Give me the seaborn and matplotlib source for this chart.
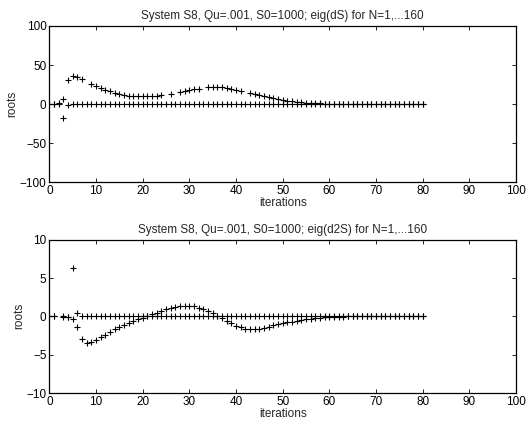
import numpy as np
import pandas as pd
import matplotlib
matplotlib.use("Agg")
import matplotlib.pyplot as plt
import seaborn as sns

nan = np.nan
iterations = list(range(0, 81))

# eig(dS): branch that departs from zero, and branch that stays near zero
ds_branch = [0, 0, 2, 7, 31.3, 36.4, 34.8, 32.2, nan, 26.2,
             23.3, 20.7, 18.5, 16.4, 14.7, 13.0, 11.8, 10.9, 10.5, 10.0,
             10.0, 10.0, 10.5, 10.9, 11.2, nan, 13.0, nan, 15.6, 16.8,
             18.1, 19.4, 19.8, nan, 21.5, 22.0, 22.0, 21.5, 20.7, 19.4,
             18.1, 16.8, nan, 14.7, 13.0, 11.2, 10.0, 8.7, 7.4, 6.1,
             5.2, 4.3, 3.6, 3.0, 2.5, 2.0, 1.6, 1.3, 1.0, 0.8,
             0.6, 0.5, 0.4, 0.3, 0.3, 0.2, 0.2, 0.2, 0.1, 0.1,
             0.1, 0.1, 0.1, 0.0, 0.0, 0.0, 0.0, 0.0, 0.0, 0.0, 0.0]
ds_zero = [0, 0, 0.5, -17, -0.5] + [0.0] * 76

# eig(d2S)
d2s_branch = [0, 0, nan, -0.1, -0.1, 6.3, -1.4, -3.0, -3.5, -3.4,
              -3.1, -2.75, -2.4, -2.05, -1.7, -1.45, -1.17, -0.91, -0.65, -0.4,
              -0.18, 0.04, 0.26, 0.5, 0.7, 0.9, 1.1, 1.24, 1.35, 1.4,
              1.4, 1.3, 1.13, 0.9, 0.65, 0.4, 0.09, -0.26, -0.57, -0.91,
              -1.22, -1.44, -1.6, -1.67, -1.67, -1.63, -1.5, -1.35, -1.17, -1.04,
              -0.91, -0.8, -0.7, -0.6, -0.5, -0.4, -0.32, -0.25, -0.18, -0.12,
              -0.08, -0.05, -0.03, -0.02, -0.01, 0, 0, 0, 0, 0,
              0, 0, 0, 0, 0, 0, 0, 0, 0, 0, 0]
d2s_zero = [0, 0, nan, 0, -0.05, -0.3, 0.5] + [0.0] * 74

titles = ["System S8, Qu=.001, S0=1000; eig(dS) for N=1,...160",
          "System S8, Qu=.001, S0=1000; eig(d2S) for N=1,...160"]
xticks = [0, 10, 20, 30, 40, 50, 60, 70, 80, 90, 100]
yticks_top = [-100, -50, 0, 50, 100]
yticks_bot = [-10, -5, 0, 5, 10]

sns.set_style("ticks")
plt.rcParams['font.family'] = ['Liberation Sans', 'DejaVu Sans']
plt.rcParams['axes.unicode_minus'] = True
plt.rcParams['font.size'] = 8.5

fig = plt.figure(figsize=(5.27, 4.23), dpi=100)
ax1 = fig.add_axes([0.0936, 0.5686, 0.8854, 0.37])
ax2 = fig.add_axes([0.0936, 0.0709, 0.8854, 0.3624])

def make_df(a, b):
    return pd.DataFrame({
        "iterations": iterations + iterations,
        "roots": list(a) + list(b),
    })

for ax, df, ylim, yt, title in [
    (ax1, make_df(ds_branch, ds_zero), (-100, 100), yticks_top, titles[0]),
    (ax2, make_df(d2s_branch, d2s_zero), (-10, 10), yticks_bot, titles[1]),
]:
    sns.scatterplot(data=df, x="iterations", y="roots", ax=ax, marker="+",
                    color="black", s=25, linewidth=0.8, legend=False)
    ax.set_xlim(0, 100)
    ax.set_ylim(*ylim)
    ax.set_xticks(xticks)
    ax.set_yticks(yt)
    ax.set_title(title, fontsize=8.5, pad=5)
    ax.set_xlabel("iterations", fontsize=8.5, labelpad=0)
    ax.set_ylabel("roots", fontsize=8.5, labelpad=1)
    ax.tick_params(direction="in", length=3, width=0.6, top=True, right=True,
                   labelsize=8.5, pad=2, colors="black")
    for sp in ax.spines.values():
        sp.set_visible(True)
        sp.set_linewidth(0.9)
        sp.set_color("black")

fig.savefig("out.png", dpi=100)
